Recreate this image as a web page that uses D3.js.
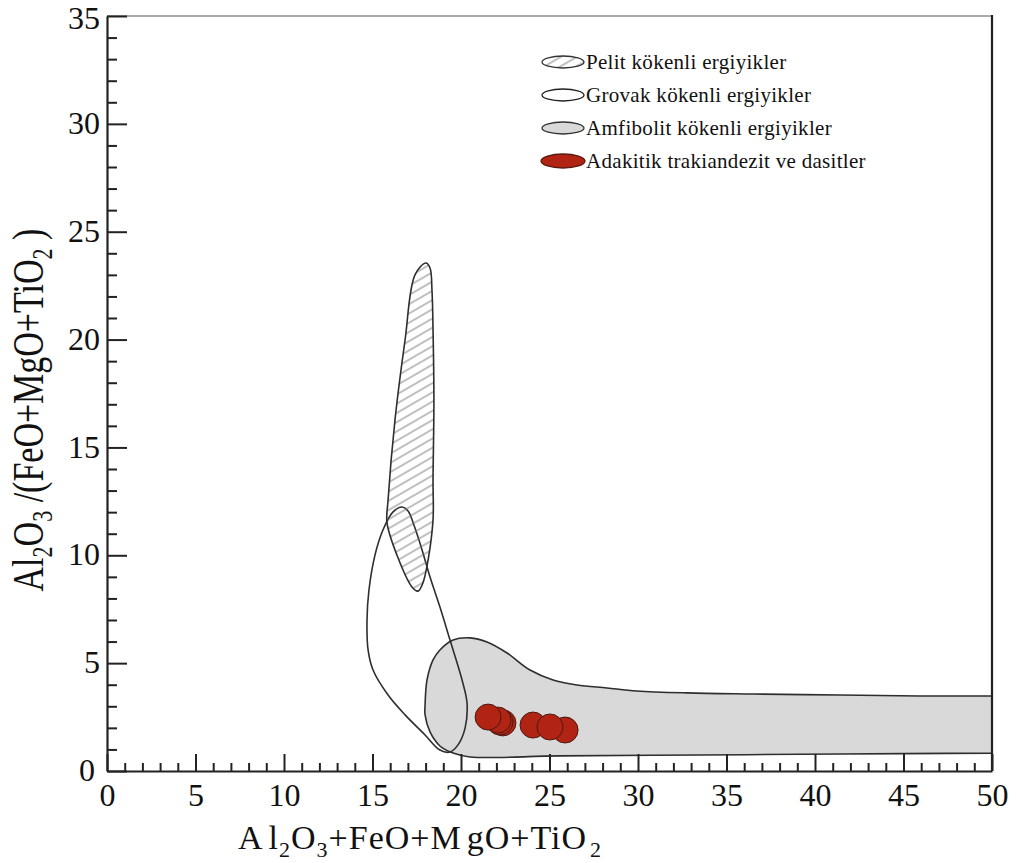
<!DOCTYPE html>
<html>
<head>
<meta charset="utf-8">
<script src="https://cdn.jsdelivr.net/npm/d3@7"></script>
<style>
  html, body { margin: 0; padding: 0; background: #fff; }
</style>
</head>
<body>
<svg id="chart" width="1017" height="863"></svg>
<script>
// Axis extents and tick values
const xDomain = [0, 50];
const yDomain = [0, 35];
const xMajorTicks = [0, 5, 10, 15, 20, 25, 30, 35, 40, 45, 50];
const yMajorTicks = [0, 5, 10, 15, 20, 25, 30, 35];

// Melt field boundaries: [Al2O3+FeO+MgO+TiO2, Al2O3/(FeO+MgO+TiO2)]
const pelitField = [
  [18.02, 23.55], [17.40, 23.00], [16.84, 19.98], [16.27, 16.27], [15.88, 12.56],
  [15.82, 11.50], [16.38, 10.01], [17.23, 8.53], [17.57, 8.34], [17.85, 8.72],
  [18.14, 9.78], [18.42, 11.64], [18.42, 13.49], [18.47, 17.20], [18.42, 20.45],
  [18.36, 22.30], [18.25, 23.32]
];
const grovakField = [
  [16.67, 12.24], [16.16, 12.01], [15.59, 11.17], [15.14, 10.01], [14.80, 8.39],
  [14.69, 7.00], [14.75, 5.61], [15.03, 4.68], [15.88, 3.52], [16.84, 2.60],
  [17.97, 1.67], [18.81, 0.97], [19.38, 0.88], [19.83, 1.21], [20.23, 1.99],
  [20.34, 3.15], [20.06, 4.22], [19.38, 6.07], [18.81, 7.60], [18.25, 8.99],
  [17.80, 10.25], [17.34, 11.40], [17.01, 12.05]
];
// open outline, closed by the straight edge at x = 50
const amfibolitField = [
  [50.00, 3.48], [45.93, 3.48], [41.41, 3.52], [36.50, 3.57], [32.77, 3.62],
  [29.94, 3.71], [28.25, 3.85], [26.55, 3.99], [25.20, 4.22], [23.90, 4.68],
  [22.60, 5.47], [21.47, 5.98], [20.51, 6.17], [19.55, 6.07], [18.81, 5.61],
  [18.42, 5.15], [18.08, 4.22], [17.97, 3.06], [17.97, 2.60], [18.25, 1.81],
  [18.81, 1.16], [19.55, 0.83], [20.51, 0.65], [25.59, 0.70], [33.50, 0.74],
  [41.41, 0.79], [50.00, 0.83]
];

// Adakitic trachyandesite and dacite samples (drawing order)
const sampleX = [22.37, 22.20, 22.09, 21.53, 25.88, 24.07, 25.03];
const sampleY = [2.23, 2.27, 2.36, 2.50, 1.90, 2.13, 2.04];

// Legend entries
const legendLabels = [
  "Pelit kökenli ergiyikler",
  "Grovak kökenli ergiyikler",
  "Amfibolit kökenli ergiyikler",
  "Adakitik trakiandezit ve dasitler"
];

const SERIF = '"Liberation Serif", "Times New Roman", serif';

const svg = d3.select("#chart");
const x = d3.scaleLinear().domain(xDomain).range([107, 992]);
const y = d3.scaleLinear().domain(yDomain).range([771, 16]);

const defs = svg.append("defs");
const hatch = defs.append("pattern")
  .attr("id", "hatch")
  .attr("patternUnits", "userSpaceOnUse")
  .attr("width", 8).attr("height", 8)
  .attr("patternTransform", "rotate(-30)");
hatch.append("line")
  .attr("x1", -1).attr("y1", 4).attr("x2", 9).attr("y2", 4)
  .attr("stroke", "#707070").attr("stroke-width", 0.9);

defs.append("clipPath").attr("id", "plotClip")
  .append("rect")
  .attr("x", x(0)).attr("y", y(35))
  .attr("width", x(50) - x(0)).attr("height", y(0) - y(35));

const closedCurve = d3.line().x(d => x(d[0])).y(d => y(d[1]))
  .curve(d3.curveCatmullRomClosed.alpha(0.5));
const openCurve = d3.line().x(d => x(d[0])).y(d => y(d[1]))
  .curve(d3.curveCatmullRom.alpha(0.5));

const plot = svg.append("g").attr("clip-path", "url(#plotClip)");

// Amphibolite-derived melts
plot.append("path")
  .attr("d", openCurve(amfibolitField) + "Z")
  .attr("fill", "#d9d9d9")
  .attr("stroke", "#2e2e2e").attr("stroke-width", 1.6);

// Greywacke-derived melts
plot.append("path")
  .attr("d", closedCurve(grovakField))
  .attr("fill", "none")
  .attr("stroke", "#2e2e2e").attr("stroke-width", 1.6);

// Pelite-derived melts
plot.append("path")
  .attr("d", closedCurve(pelitField))
  .attr("fill", "url(#hatch)")
  .attr("stroke", "#2e2e2e").attr("stroke-width", 1.6);

// Samples
plot.selectAll("circle.sample")
  .data(sampleX.map((v, i) => [v, sampleY[i]]))
  .join("circle")
  .attr("class", "sample")
  .attr("cx", d => x(d[0]))
  .attr("cy", d => y(d[1]))
  .attr("r", 13)
  .attr("fill", "#b12312")
  .attr("stroke", "#4a1a12").attr("stroke-width", 1);

// Frame: thin top line, heavier right edge
svg.append("line")
  .attr("x1", x(0)).attr("x2", x(50)).attr("y1", y(35)).attr("y2", y(35))
  .attr("stroke", "#555").attr("stroke-width", 1.2);
svg.append("line")
  .attr("x1", x(50)).attr("x2", x(50)).attr("y1", y(35) - 1).attr("y2", y(0))
  .attr("stroke", "#222").attr("stroke-width", 2.2);

// Axes: ticks point into the plot
const xMinor = d3.range(0, 51, 1).filter(v => v % 5 !== 0);
const yMinor = d3.range(0, 36, 1).filter(v => v % 5 !== 0);

const gx = svg.append("g").attr("transform", `translate(0,${y(0)})`);
gx.call(d3.axisBottom(x).tickValues(xMinor).tickSizeInner(-8).tickSizeOuter(0).tickFormat(""));
gx.call(g => g.select(".domain").remove());
const gxMaj = svg.append("g").attr("transform", `translate(0,${y(0)})`);
gxMaj.call(d3.axisBottom(x).tickValues(xMajorTicks).tickSizeInner(-17).tickSizeOuter(0).tickPadding(12));

const gy = svg.append("g").attr("transform", `translate(${x(0)},0)`);
gy.call(d3.axisLeft(y).tickValues(yMinor).tickSizeInner(-10).tickSizeOuter(0).tickFormat(""));
gy.call(g => g.select(".domain").remove());
const gyMaj = svg.append("g").attr("transform", `translate(${x(0)},0)`);
gyMaj.call(d3.axisLeft(y).tickValues(yMajorTicks).tickSizeInner(-20).tickSizeOuter(0).tickPadding(7));

svg.selectAll(".tick line").attr("stroke", "#222").attr("stroke-width", 2);
svg.selectAll(".domain").attr("stroke", "#222").attr("stroke-width", 2.2);
svg.selectAll(".tick text")
  .attr("fill", "#111")
  .style("font-family", SERIF)
  .style("font-size", "32px");
gyMaj.selectAll(".tick text").attr("dy", "0.3em");
gyMaj.selectAll(".tick").filter(d => d === 35).select("text").attr("dy", "0.4em");
gyMaj.selectAll(".tick").filter(d => d === 0).select("text").attr("x", -12);

// X axis title
const xt = svg.append("text")
  .attr("x", 238).attr("y", 849)
  .attr("fill", "#111")
  .style("font-family", SERIF)
  .style("font-size", "34px")
  .style("letter-spacing", "1px");
xt.append("tspan").text("A");
xt.append("tspan").attr("dx", 5).text("l");
xt.append("tspan").attr("dy", 8).style("font-size", "22px").text("2");
xt.append("tspan").attr("dy", -8).text("O");
xt.append("tspan").attr("dy", 8).style("font-size", "22px").text("3");
xt.append("tspan").attr("dy", -8).text("+FeO+M");
xt.append("tspan").attr("dx", 5).text("gO+TiO");
xt.append("tspan").attr("dx", 3).attr("dy", 8).style("font-size", "22px").text("2");

// Y axis title
const yt = svg.append("text")
  .attr("transform", "translate(43,410) scale(1.3,1) rotate(-90)")
  .attr("text-anchor", "middle")
  .attr("fill", "#111")
  .style("font-family", SERIF)
  .style("font-size", "34px");
yt.append("tspan").text("Al");
yt.append("tspan").attr("dy", 7).style("font-size", "22px").text("2");
yt.append("tspan").attr("dy", -7).text("O");
yt.append("tspan").attr("dy", 7).style("font-size", "22px").text("3");
yt.append("tspan").attr("dy", -7).text(" /(FeO+MgO+TiO");
yt.append("tspan").attr("dy", 7).style("font-size", "22px").text("2");
yt.append("tspan").attr("dy", -7).text(" )");

// Legend
const legendSymbols = [
  { fill: "url(#hatch)", stroke: "#333", rx: 21, ry: 6 },
  { fill: "#fff", stroke: "#222", rx: 21, ry: 6 },
  { fill: "#d9d9d9", stroke: "#333", rx: 21, ry: 6 },
  { fill: "#b12312", stroke: "#5a1c12", rx: 22, ry: 7 }
];
const legend = svg.append("g");
const rows = legend.selectAll("g").data(legendLabels).join("g")
  .attr("transform", (d, i) => `translate(0,${62 + i * 33})`);
rows.append("ellipse")
  .attr("cx", 563).attr("cy", 0)
  .attr("rx", (d, i) => legendSymbols[i].rx)
  .attr("ry", (d, i) => legendSymbols[i].ry)
  .attr("fill", (d, i) => legendSymbols[i].fill)
  .attr("stroke", (d, i) => legendSymbols[i].stroke)
  .attr("stroke-width", 1.3);
rows.append("text")
  .attr("x", 586).attr("y", 7)
  .attr("fill", "#111")
  .style("font-family", SERIF)
  .style("font-size", "21px")
  .style("letter-spacing", "0.3px")
  .text(d => d);
</script>
</body>
</html>
